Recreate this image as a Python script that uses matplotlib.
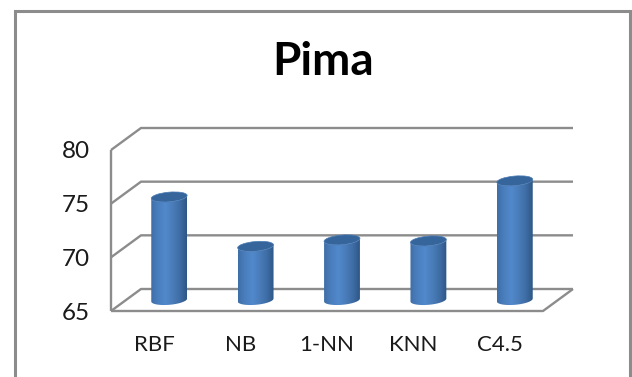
import numpy as np
import matplotlib
matplotlib.use("Agg")
import matplotlib.pyplot as plt
from matplotlib.colors import LinearSegmentedColormap
from matplotlib.lines import Line2D
from matplotlib.patches import Ellipse, PathPatch
from matplotlib.path import Path
from matplotlib.transforms import Affine2D

methods = ["RBF", "NB", "1-NN", "KNN", "C4.5"]
accuracy = [74.6, 70.0, 70.6, 70.5, 76.1]
y_ticks = [65, 70, 75, 80]

W, H = 632, 377
GRID = "#8c8c8c"
plt.rcParams["font.family"] = ["Lato", "DejaVu Sans"]

fig = plt.figure(figsize=(W / 100, H / 100), dpi=100)
# axes = the front plane of the 3d box
ax = fig.add_axes([111 / W, 1 - 311 / H, 432 / W, 161 / H])
ax.patch.set_alpha(0)
ax.set_xlim(-0.5, 4.5)
ax.set_ylim(65, 80)
for s in ax.spines.values():
    s.set_visible(False)

px_x = 432 / 5     # pixels per category
px_y = 161 / 15    # pixels per y unit
depth_x = 30 / px_x
depth_y = 22 / px_y
x0, x1 = ax.get_xlim()

# walls and floor
line = dict(color=GRID, lw=1.7, clip_on=False, zorder=1, solid_capstyle="butt")
for v in y_ticks:
    ax.plot([x0, x0 + depth_x, x1 + depth_x], [v, v + depth_y, v + depth_y], **line)
ax.plot([x0, x0], [65, 80], **line)
ax.plot([x0, x1, x1 + depth_x], [65, 65, 65 + depth_y], **line)

# cylinders
cmap = LinearSegmentedColormap.from_list(
    "cyl", ["#3f6fa8", "#4a7fbf", "#5189cc", "#4a7dba", "#3f6ea6", "#2f5787"])
grad = np.linspace(0, 1, 64).reshape(1, -1)
half_w = 18 / px_x
tilt = np.deg2rad(5)


def ell(cx, cy, t):
    # tilted ellipse point, worked out in pixels then back to data units
    ex = 18 * np.cos(t)
    ey = 4.8 * np.sin(t)
    return (cx + (ex * np.cos(tilt) - ey * np.sin(tilt)) / px_x,
            cy + (ex * np.sin(tilt) + ey * np.cos(tilt)) / px_y)


for i, val in enumerate(accuracy):
    cx = i + 0.5 * depth_x
    base = 65 + 0.5 * depth_y
    top = val + 0.5 * depth_y
    t = np.linspace(np.pi, 2 * np.pi, 30)
    bx, by = ell(cx, base, t)
    tx, ty = ell(cx, top, t[::-1])
    verts = np.column_stack([np.r_[bx, tx], np.r_[by, ty]])
    patch = PathPatch(Path(np.vstack([verts, verts[:1]]), closed=True),
                      fc="none", ec="none", transform=ax.transData)
    ax.add_patch(patch)
    im = ax.imshow(grad, extent=[cx - half_w, cx + half_w, base - 1, top + 1],
                   cmap=cmap, aspect="auto", zorder=3, interpolation="bilinear")
    im.set_clip_path(patch)
    tr = (Affine2D().scale(18, 4.8).rotate(tilt).translate(*ax.transData.transform((cx, top))))
    ax.add_patch(Ellipse((0, 0), 2, 2, fc="#36659c", ec="#4a7cb5", lw=0.5,
                         transform=tr, zorder=4, clip_on=False))

ax.set_xlim(x0, x1)
ax.set_ylim(65, 80)
ax.set_xticks(range(len(methods)), methods, fontsize=16, color="#1a1a1a")
ax.set_yticks(y_ticks, [str(v) for v in y_ticks], fontsize=17.5, color="#1a1a1a")
ax.tick_params(axis="x", length=0, pad=17)
ax.tick_params(axis="y", length=0, pad=15)

# outer chart frame, open at the bottom
fig.add_artist(Line2D([14.5 / W, 14.5 / W, 630 / W, 630 / W],
                      [0, 1 - 10.5 / H, 1 - 10.5 / H, 0],
                      color=GRID, lw=2.2, solid_joinstyle="miter"))

fig.text(323 / W, 1 - 62 / H, "Pima", fontsize=33, fontweight="bold",
         color="black", ha="center", va="center")

fig.savefig("out.png", dpi=100)
